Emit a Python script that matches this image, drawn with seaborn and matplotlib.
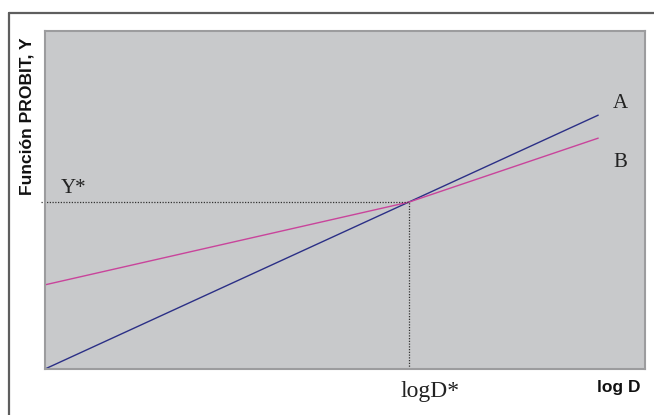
import matplotlib
matplotlib.use("Agg")
import matplotlib.pyplot as plt
import seaborn as sns
import pandas as pd
from matplotlib.lines import Line2D

# Data (axis units: 0..10 on both axes)
a_x = [0.0, 9.22]
a_y = [0.0, 7.51]
b_x = [0.0, 6.07, 9.22]
b_y = [2.49, 4.94, 6.83]
x_star = 6.07
y_star = 4.94
series_labels = ["A", "B"]

sns.set_style("white")
sans = ['Liberation Sans', 'Arial', 'DejaVu Sans']
plt.rcParams['font.family'] = sans

df = pd.DataFrame({
    "x": a_x + b_x,
    "y": a_y + b_y,
    "s": ["A"] * len(a_x) + ["B"] * len(b_x),
})

fig = plt.figure(figsize=(6.54, 4.15), dpi=100)
ax = fig.add_axes([45 / 654, (415 - 369) / 415, 600 / 654, 338 / 415])
ax.set_facecolor("#c8c9cb")

sns.lineplot(data=df, x="x", y="y", hue="s", palette={"A": "#2b2f86", "B": "#c9449b"},
             linewidth=1.0, legend=False, ax=ax, sort=False, estimator=None)

ax.set_xlim(0, 10)
ax.set_ylim(0, 10)
ax.set_xticks([])
ax.set_yticks([])
ax.set_xlabel("")
ax.set_ylabel("")
for sp in ax.spines.values():
    sp.set_color("#9c9c9e")
    sp.set_linewidth(1.5)

# dotted guides
ax.plot([-0.07, x_star], [y_star, y_star], linestyle=(0, (1, 1.2)), color="#333333",
        linewidth=0.9, clip_on=False)
ax.plot([x_star, x_star], [0, y_star], linestyle=(0, (1, 1.2)), color="#333333",
        linewidth=0.9, clip_on=False)

serif = ['Liberation Serif', 'DejaVu Serif']
def fx(px):
    return px / 654
def fy(py):
    return 1 - py / 415

fig.text(fx(61), fy(193), "Y*", family=serif, fontsize=15, ha="left", va="baseline", color="#222222")
fig.text(fx(430), fy(397), "logD*", family=serif, fontsize=17, ha="center", va="baseline", color="#222222")
fig.text(fx(613), fy(108), series_labels[0], family=serif, fontsize=15, ha="left", va="baseline", color="#222222")
fig.text(fx(613), fy(167), series_labels[1], family=serif, fontsize=15, ha="left", va="baseline", color="#222222")
fig.text(fx(597), fy(392), "log D", family=sans, fontsize=12.5, fontweight="bold", ha="left", va="baseline", color="#111111")
fig.text(fx(27), fy(116), "Función PROBIT, Y", family=sans, fontsize=12.6, fontweight="bold", rotation=90,
         ha="center", va="center", color="#111111")

# outer frame (left and top visible)
fig.add_artist(Line2D([fx(9), fx(9)], [0, fy(13)], color="#5e5e5e", linewidth=1.6, transform=fig.transFigure))
fig.add_artist(Line2D([fx(9), 1], [fy(13), fy(13)], color="#5e5e5e", linewidth=1.6, transform=fig.transFigure))

fig.savefig("out.png", dpi=100)
